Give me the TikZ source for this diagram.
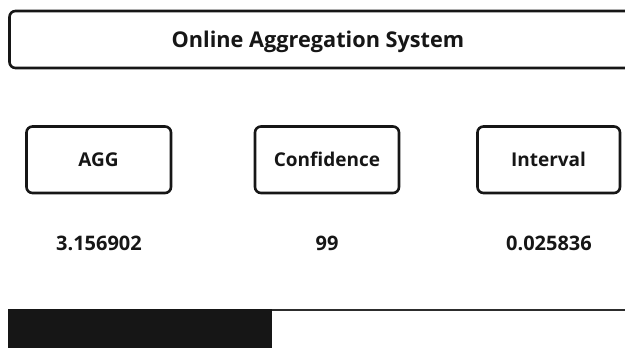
\documentclass[tikz,border=0pt]{standalone}
\usepackage{fontspec}
\setmainfont{Open Sans}[BoldFont={Open Sans Bold}]
\definecolor{ink}{HTML}{161616}
\tikzset{
  panel/.style={draw=ink, line width=2.6pt, rounded corners=6pt, fill=white},
  lbl/.style={font=\bfseries\fontsize{19}{22}\selectfont, text=ink, inner sep=0pt},
  val/.style={font=\bfseries\fontsize{20}{23}\selectfont, text=ink, inner sep=0pt},
}
\begin{document}
\begin{tikzpicture}[x=1pt,y=-1pt]
\useasboundingbox (0,0) rectangle (625,348);
\clip (0,0) rectangle (625,348);
% title bar (runs off the right edge)
\draw[panel] (9.5,11) rectangle (650,68);
\node[lbl, font=\bfseries\fontsize{21.7}{24}\selectfont] (title) at (318,42) {Online Aggregation System};
% three boxes
\draw[panel] (26.5,126.5) rectangle (171,193);
\node[lbl] (agg) at (98.5,159.5) {AGG};
\draw[panel] (255,126.5) rectangle (399,193);
\node[lbl] (conf) at (327,159.5) {Confidence};
\draw[panel] (477.5,126.5) rectangle (620,193);
\node[lbl] (intv) at (548.5,159.5) {Interval};
% values
\node[val] (v1) at (99,243) {3.156902};
\node[val] (v2) at (327,243) {99};
\node[val] (v3) at (549,243) {0.025836};
% bottom bar
\fill[ink] (8,309) rectangle (272,360);
\draw[ink!90, line width=2pt] (272,310) -- (630,310);
\end{tikzpicture}
\end{document}
